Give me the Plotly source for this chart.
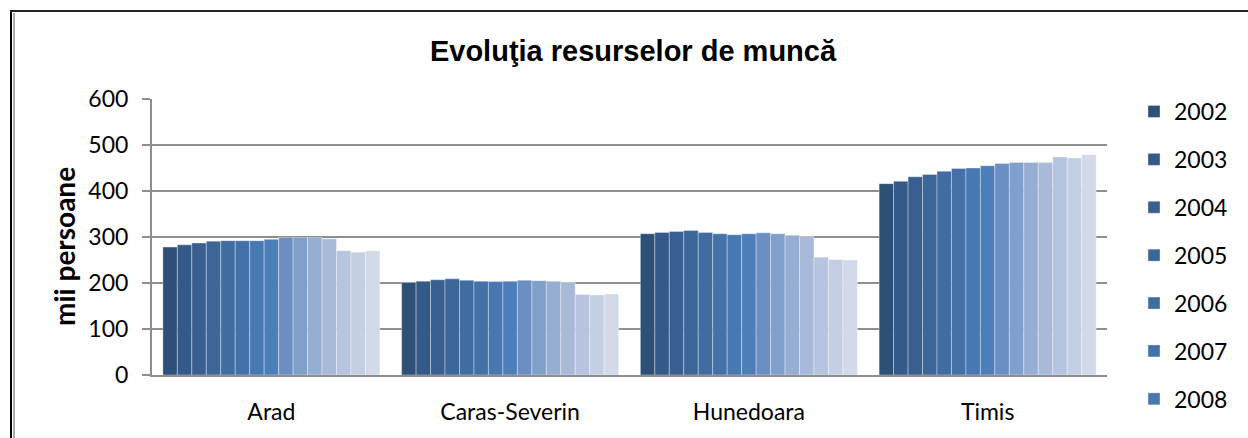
import plotly.graph_objects as go

categories = ["Arad", "Caras-Severin", "Hunedoara", "Timis"]
years = [str(y) for y in range(2002, 2017)]

arad = [278, 283, 287, 291, 292, 292, 292, 295, 299, 299, 299, 296, 270, 267, 270]
caras = [201, 204, 207, 209, 206, 204, 203, 204, 206, 205, 204, 201, 175, 174, 176]
hunedoara = [307, 310, 312, 314, 310, 307, 305, 307, 309, 307, 304, 301, 256, 251, 250]
timis = [416, 421, 431, 436, 443, 449, 450, 455, 460, 462, 462, 462, 474, 472, 479]

colors = ["#2E5077", "#335A88", "#395F91", "#3C6598", "#406CA1", "#4371A8", "#4778B2",
          "#4C7FBA", "#6B8FC3", "#819FCB", "#97AED3", "#A9BAD9", "#B7C4DF", "#C4CFE4", "#D2D9E9"]

y_ticks = [0, 100, 200, 300, 400, 500, 600]

W, H = 1248, 1000
PL, PR, PT, PB = 152, 1107, 99, 375


def px_x(px):
    return (px - PL) / (PR - PL)


def px_y(py):
    return (PB - py) / (PB - PT)


fig = go.Figure()
for i, yr in enumerate(years):
    vals = [arad[i], caras[i], hunedoara[i], timis[i]]
    fig.add_trace(go.Bar(
        x=categories, y=vals, name=yr, legendgroup=yr,
        marker=dict(color=colors[i], line=dict(color="rgba(255,255,255,0.35)", width=1)),
    ))

FONT = "Lato, 'Noto Sans', sans-serif"
grid = "#8E8E8E"

fig.update_layout(
    width=W, height=H,
    margin=dict(l=PL, r=W - PR, t=PT, b=H - PB, pad=0),
    paper_bgcolor="white", plot_bgcolor="white",
    barmode="group", bargap=0.091, bargroupgap=0,
    font=dict(family=FONT, size=23, color="black"),
    title=dict(text="<b>Evoluţia resurselor de muncă</b>",
               font=dict(family="'Liberation Sans', Arial, sans-serif", size=29, color="black"),
               x=px_x(633), xref="paper", xanchor="center",
               y=1 - 51 / H, yref="container", yanchor="middle"),
    legend=dict(x=px_x(1134), y=px_y(90), xanchor="left", yanchor="top",
                traceorder="grouped", tracegroupgap=15, maxheight=950,
                font=dict(family=FONT, size=23, color="black"),
                bgcolor="rgba(0,0,0,0)"),
    xaxis=dict(showline=True, linecolor=grid, linewidth=2, ticks="",
               showgrid=False, ticklabelstandoff=15,
               tickfont=dict(family=FONT, size=23, color="black")),
    yaxis=dict(range=[0, 600], tickvals=y_ticks, showgrid=True, gridcolor=grid, gridwidth=2,
               showline=True, linecolor=grid, linewidth=2, ticks="outside", ticklen=8,
               tickcolor=grid, tickwidth=2, ticklabelstandoff=9, zeroline=False,
               tickfont=dict(family=FONT, size=23, color="black")),
)

fig.add_annotation(text="<b>mii persoane</b>", textangle=-90, showarrow=False,
                   xref="paper", yref="paper", x=px_x(64), y=px_y(247),
                   xanchor="center", yanchor="middle",
                   font=dict(family=FONT, size=28, color="black"))

# outer frame
frame = [
    dict(x0=px_x(11), x1=px_x(11), y0=px_y(10), y1=px_y(H), color="black", w=2),
    dict(x0=px_x(14), x1=px_x(14), y0=px_y(13), y1=px_y(H), color="#555555", w=1),
    dict(x0=px_x(10), x1=px_x(W + 5), y0=px_y(11), y1=px_y(11), color="#222222", w=2),
]
for f in frame:
    fig.add_shape(type="line", xref="paper", yref="paper",
                  x0=f["x0"], x1=f["x1"], y0=f["y0"], y1=f["y1"],
                  line=dict(color=f["color"], width=f["w"]))

fig.write_html("out.html", config={"displayModeBar": False}, post_script=(
    "document.body.style.margin='0';"
    "document.body.style.overflow='hidden';"
    "document.documentElement.style.overflow='hidden';"))
